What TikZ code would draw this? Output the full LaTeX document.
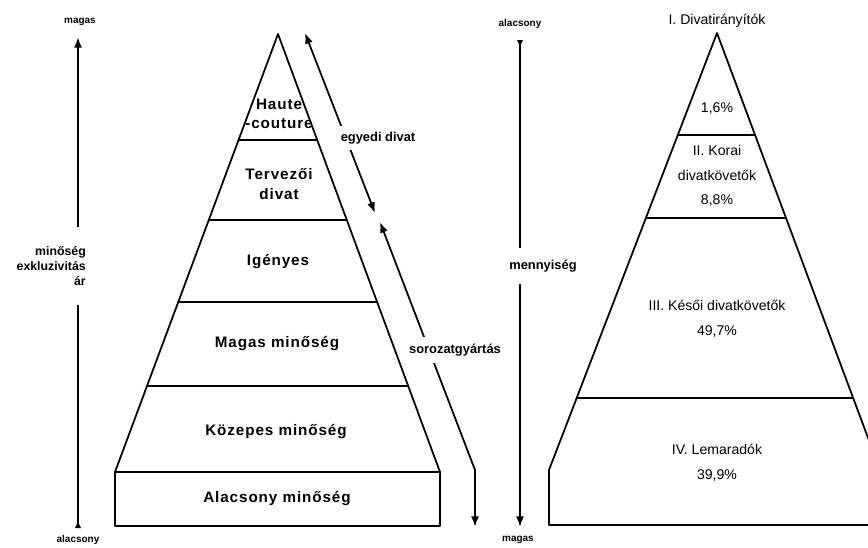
\documentclass[tikz,border=0pt]{standalone}
\usepackage{fontspec}
\setmainfont{Liberation Sans}
\newfontfamily\widesans[LetterSpace=6]{Liberation Sans}
\usetikzlibrary{arrows.meta,calc,positioning}
\tikzset{
  every picture/.append style={line cap=round,line join=round},
  pyr line/.style={line width=1.5pt},
  pyr label/.style={font=\widesans\bfseries\fontsize{13}{16.5}\selectfont,align=center},
  seg label/.style={font=\fontsize{12}{21}\selectfont,align=center},
  axis line/.style={line width=1.5pt,{Latex[reversed,length=2.2mm,width=2mm]}-{Latex[length=3.2mm,width=2.4mm]}},
  axis end/.style={font=\bfseries\fontsize{8.5}{10}\selectfont},
  axis label/.style={font=\bfseries\fontsize{10.5}{12.5}\selectfont,fill=white,align=right},
  flow arrow/.style={line width=1.5pt,{Latex[length=3.2mm,width=2.4mm]}-{Latex[length=3.2mm,width=2.4mm]}},
  flow label/.style={font=\bfseries\fontsize{11}{13}\selectfont,fill=white,inner ysep=5pt}
}

\begin{document}
\begin{tikzpicture}[x=0.03cm, y=-0.03cm]
  \useasboundingbox (0,0) rectangle (868,547);
  \clip (0,0) rectangle (868,547);
  \coordinate (ltop) at (278,34);
  \coordinate (lbl) at (115,472);
  \coordinate (lbr) at (440,472);
  \draw[pyr line] (ltop) -- (lbr) -- (440,526) -- (115,526) -- (lbl) -- cycle;
  \draw[pyr line] (lbl) -- (lbr);
  \foreach \t in {0.242,0.425,0.612,0.804}
    \draw[pyr line] ($(ltop)!\t!(lbl)$) -- ($(ltop)!\t!(lbr)$);
  \node[pyr label] (haute) at (279,114) {Haute\\-couture};
  \node[pyr label] (tervezo) at (279,184) {Tervezői\\divat};
  \node[pyr label] (igenyes) at (278,262) {Igényes};
  \node[pyr label] (magas) at (277,344) {Magas minőség};
  \node[pyr label] (kozepes) at (276,432) {Közepes minőség};
  \node[pyr label] (alacsony) at (277,499) {Alacsony minőség};

  \coordinate (ltip) at (78,37);
  \coordinate (ltail) at (78,528);
  \draw[axis line] (ltail) -- (ltip);
  \node[axis end] (lhigh) at (80,22) {magas};
  \node[axis end] (llow) at (78,540) {alacsony};
  \node[axis label, anchor=east, inner xsep=0pt, inner ysep=17pt] (lqual) at (86,266)
    {minőség\\exkluzivitás\\ár};

  \coordinate (egA) at (305,33);
  \coordinate (egB) at (375,213);
  \draw[flow arrow] (egA) -- (egB);
  \node[flow label] (egyedi) at (378,138) {egyedi divat};
  \coordinate (soA) at (380,222);
  \coordinate (soB) at (475,470);
  \coordinate (soC) at (475,527);
  \draw[flow arrow] (soA) -- (soB) -- (soC);
  \node[flow label, inner ysep=6pt] (sorozat) at (455,350) {sorozatgyártás};

  \coordinate (rtail) at (520,40);
  \coordinate (rtip) at (520,527);
  \draw[axis line] (rtail) -- (rtip);
  \node[axis end] (rlow) at (520,24) {alacsony};
  \node[axis end] (rhigh) at (518,540) {magas};
  \node[axis label, font=\bfseries\fontsize{11}{12.5}\selectfont, inner ysep=10pt] (rqty) at (543,266) {mennyiség};

  \coordinate (rtop) at (717,33);
  \coordinate (rbl) at (549,470);
  \coordinate (rbr) at (880,470);
  \draw[pyr line] (rtop) -- (rbr) -- (880,525) -- (549,525) -- (rbl) -- cycle;
  \foreach \t in {0.233,0.423,0.835}
    \draw[pyr line] ($(rtop)!\t!(rbl)$) -- ($(rtop)!\t!(rbr)$);
  \node[seg label] (divatir) at (717,21) {I. Divatirányítók};
  \node[seg label] (p1) at (717,108) {1,6\%};
  \node[seg label] (korai) at (717,176) {II. Korai\\divatkövetők\\8,8\%};
  \node[seg label] (kesoi) at (717,319) {III. Késői divatkövetők\\49,7\%};
  \node[seg label] (lemar) at (717,463) {IV. Lemaradók\\39,9\%};
\end{tikzpicture}
\end{document}
